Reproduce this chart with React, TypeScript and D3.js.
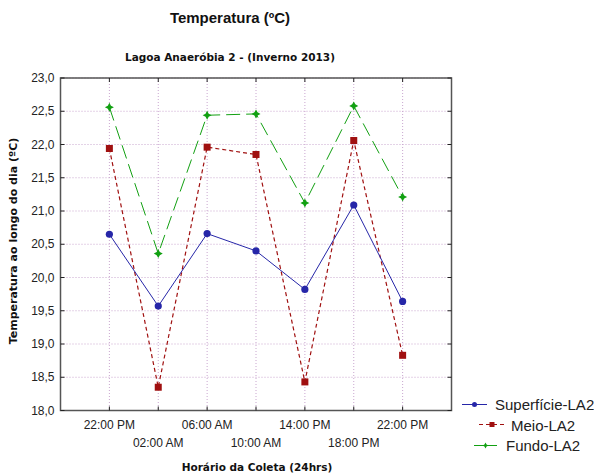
import React from "react";
import * as d3 from "d3";

const categories = ["22:00 PM", "02:00 AM", "06:00 AM", "10:00 AM", "14:00 PM", "18:00 PM", "22:00 PM"];
const superficie = [20.65, 19.57, 20.66, 20.40, 19.82, 21.09, 19.64];
const meio = [21.94, 18.35, 21.96, 21.85, 18.43, 22.06, 18.83];
const fundo = [22.56, 20.36, 22.44, 22.46, 21.12, 22.58, 21.21];
const yTicks = [18.0, 18.5, 19.0, 19.5, 20.0, 20.5, 21.0, 21.5, 22.0, 22.5, 23.0];

const W = 594, H = 475;
const L = 60.5, R = 451.5, T = 78, B = 410.5;
const FONT = "'Liberation Sans', Arial, sans-serif";
const BOLDFONT = "'DejaVu Sans', Verdana, sans-serif";

const x = d3.scaleLinear().domain([0, categories.length + 1]).range([L, R]);
const y = d3.scaleLinear().domain([18, 23]).range([B, T]);

const BLUE = "#2626a8";
const RED = "#a01010";
const GREEN = "#12a012";

function star(cx: number, cy: number, s: number) {
  const i = s * 0.35;
  return `M${cx},${cy - s} L${cx + i},${cy - i} L${cx + s},${cy} L${cx + i},${cy + i} L${cx},${cy + s} L${cx - i},${cy + i} L${cx - s},${cy} L${cx - i},${cy - i} Z`;
}

export default function App() {
  const line = d3.line<number>().x((_, i) => x(i + 1)).y((d) => y(d));
  const fmt = (v: number) => v.toFixed(1).replace(".", ",");
  return (
    <svg width={W} height={H} style={{ position: "absolute", left: 0, top: 0, background: "#fff" }} fontFamily={FONT}>
      <rect x={0} y={0} width={W} height={H} fill="#fff" />
      <text x={230} y={23} textAnchor="middle" fontSize={15} fontWeight="bold" fill="#111">Temperatura (ºC)</text>
      <text x={230} y={61} textAnchor="middle" fontSize={10.5} fontWeight="bold" fontFamily={BOLDFONT} fill="#111">Lagoa Anaeróbia 2 - (Inverno 2013)</text>

      {/* grid */}
      {categories.map((_, i) => (
        <line key={"gx" + i} x1={x(i + 1)} x2={x(i + 1)} y1={T} y2={B} stroke="#c9a6cf" strokeWidth={1} strokeDasharray="1,2" />
      ))}
      {yTicks.map((t) => (
        <line key={"gy" + t} x1={L} x2={R} y1={y(t)} y2={y(t)} stroke="#c9a6cf" strokeWidth={1} strokeDasharray="1,2" />
      ))}

      {/* frame */}
      <rect x={L} y={T} width={R - L} height={B - T} fill="none" stroke="#555" strokeWidth={1.5} />

      {/* ticks */}
      {yTicks.map((t) => (
        <g key={"ty" + t}>
          <line x1={L} x2={L + 4} y1={y(t)} y2={y(t)} stroke="#222" strokeWidth={1} />
          <line x1={R - 4} x2={R} y1={y(t)} y2={y(t)} stroke="#222" strokeWidth={1} />
          <text x={L - 6} y={y(t) + 4} textAnchor="end" fontSize={12} fill="#222">{fmt(t)}</text>
        </g>
      ))}
      {categories.map((c, i) => (
        <g key={"tx" + i}>
          <line x1={x(i + 1)} x2={x(i + 1)} y1={T} y2={T + 4} stroke="#222" strokeWidth={1} />
          <line x1={x(i + 1)} x2={x(i + 1)} y1={B - 4} y2={B} stroke="#222" strokeWidth={1} />
          <text x={x(i + 1)} y={i % 2 === 0 ? 429 : 447} textAnchor="middle" fontSize={12} fill="#222">{c}</text>
        </g>
      ))}

      <text transform={`translate(17,241) rotate(-90)`} textAnchor="middle" fontSize={11} fontWeight="bold" fontFamily={BOLDFONT} fill="#111">Temperatura ao longo do dia (ºC)</text>
      <text x={257} y={471} textAnchor="middle" fontSize={10.5} fontWeight="bold" fontFamily={BOLDFONT} fill="#111">Horário da Coleta (24hrs)</text>

      {/* series */}
      <path d={line(fundo) || ""} fill="none" stroke={GREEN} strokeWidth={1} strokeDasharray="14,6" />
      <path d={line(meio) || ""} fill="none" stroke={RED} strokeWidth={1.2} strokeDasharray="4,3" />
      <path d={line(superficie) || ""} fill="none" stroke={BLUE} strokeWidth={1} />

      {fundo.map((v, i) => (
        <path key={"f" + i} d={star(x(i + 1), y(v), 4.5)} fill={GREEN} />
      ))}
      {meio.map((v, i) => (
        <rect key={"m" + i} x={x(i + 1) - 3.5} y={y(v) - 3.5} width={7} height={7} fill={RED} />
      ))}
      {superficie.map((v, i) => (
        <circle key={"s" + i} cx={x(i + 1)} cy={y(v)} r={3.6} fill={BLUE} />
      ))}

      {/* legend */}
      <g>
        <line x1={462} x2={487} y1={404.5} y2={404.5} stroke={BLUE} strokeWidth={1} />
        <circle cx={474.5} cy={404.5} r={2.5} fill={BLUE} />
        <text x={495} y={409.5} fontSize={15} fill="#222">Superfície-LA2</text>

        <line x1={479} x2={505} y1={424.5} y2={424.5} stroke={RED} strokeWidth={1} strokeDasharray="4,3" />
        <rect x={489.5} y={422} width={5} height={5} fill={RED} />
        <text x={511} y={430.5} fontSize={15} fill="#222">Meio-LA2</text>

        <line x1={474} x2={497} y1={445.5} y2={445.5} stroke={GREEN} strokeWidth={1} />
        <path d={star(485.5, 445.5, 3)} fill={GREEN} />
        <text x={506} y={450.5} fontSize={15} fill="#222">Fundo-LA2</text>
      </g>
    </svg>
  );
}
